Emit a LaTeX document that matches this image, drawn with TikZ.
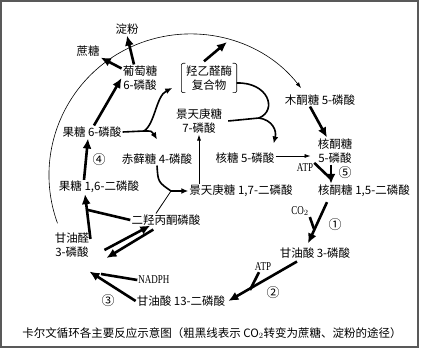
\documentclass[tikz,border=0pt]{standalone}
\usepackage{fontspec}
\newfontfamily\cjk{Noto Sans CJK SC}
\newfontfamily\narrowserif[FakeStretch=0.75]{Liberation Serif}
\usetikzlibrary{arrows.meta}

\begin{document}
\begin{tikzpicture}[x=1pt,y=-1pt,
    every node/.style={align=center,inner sep=1pt,font=\cjk\fontsize{11.5}{14}\selectfont},
    small/.style={font=\narrowserif\fontsize{12}{13}\selectfont},
    stepno/.style={font=\cjk\fontsize{13}{14}\selectfont},
    boldarr/.style={line width=2.6pt,-{Latex[length=10pt,width=9pt]}},
    boldline/.style={line width=2.6pt},
    curvearr/.style={line width=1.6pt,-{Latex[length=7pt,width=6pt]}},
    curveline/.style={line width=1.6pt},
    thinarr/.style={line width=0.7pt,-{Latex[length=6pt,width=4pt]}}]
    \useasboundingbox (0,0) rectangle (421,350);
    \draw[line width=1.2pt,gray!70!black] (1,1) rectangle (418,347);

    % sugars
    \node (starch) at (127,29) {淀粉};
    \node (sucrose) at (88,51) {蔗糖};
    \node (g6p) at (140,78) {葡萄糖\\6-磷酸};
    \node[minimum width=55pt,minimum height=29pt] (complex) at (209,78) {羟乙醛酶\\复合物};
    \draw[line width=0.6pt,rounded corners=2pt]
      ([xshift=4pt]complex.north west) -- (complex.north west) -- (complex.south west) -- ([xshift=4pt]complex.south west);
    \draw[line width=0.6pt,rounded corners=2pt]
      ([xshift=-4pt]complex.north east) -- (complex.north east) -- (complex.south east) -- ([xshift=-4pt]complex.south east);
    \node (s7p) at (199,121) {景天庚糖\\7-磷酸};
    \node (xu5p) at (320,100) {木酮糖 5-磷酸};
    \node (ru5p) at (335,151) {核酮糖\\5-磷酸};
    \node (f6p) at (92,132) {果糖 6-磷酸};
    \node (e4p) at (157,159) {赤藓糖 4-磷酸};
    \node (r5p) at (245,158) {核糖 5-磷酸};
    \node (sbp) at (241,191) {景天庚糖 1,7-二磷酸};
    \node (rubp) at (364,191) {核酮糖 1,5-二磷酸};
    \node (fbp) at (99,187) {果糖 1,6-二磷酸};
    \node (dhap) at (166,220) {二羟丙酮磷酸};
    \node (gap) at (72,245) {甘油醛\\3-磷酸};
    \node (pga) at (315,253) {甘油酸 3-磷酸};
    \node (bpga) at (181,301) {甘油酸 13-二磷酸};

    % cofactors and steps
    \node[small] (atpa) at (305,168) {ATP};
    \node[small] (co2) at (300,211) {CO$_2$};
    \node[small] (atpb) at (263,267) {ATP};
    \node[small] (nadph) at (154,280) {NADPH};
    \node[stepno] (n1) at (335,225) {①};
    \node[stepno] (n2) at (273,293) {②};
    \node[stepno] (n3) at (108,301) {③};
    \node[stepno] (n4) at (99,160) {④};
    \node[stepno] (n5) at (345,173) {⑤};

    \node (caption) at (212,333) {卡尔文循环各主要反应示意图（粗黑线表示 CO$_2$转变为蔗糖、淀粉的途径）};

    % junctions
    \coordinate (j1) at (88,210);
    \coordinate (j3) at (101,274);
    \coordinate (j4) at (250,290);
    \coordinate (j5) at (314,229);
    \coordinate (j6) at (330,178);
    \coordinate (j7) at (144,131);
    \coordinate (j8) at (259,118);
    \coordinate (j9) at (171,191);
    \coordinate (arctop) at (227,42);

    % outer cycle
    \draw[thinarr,line width=0.6pt] (190,175) ++(-200:141) arc[start angle=-200,end angle=-38,radius=141];

    % bold path
    \draw[boldarr] ([xshift=-6pt]g6p.north) -- (starch.south);
    \draw[boldarr] ([yshift=-4pt]g6p.north west) -- (sucrose.south east);
    \draw[boldarr] ([xshift=2pt]f6p.north) -- (g6p.west);
    \draw[boldarr] ([xshift=-15pt]fbp.north) -- ([xshift=-4pt]f6p.south);
    \draw[boldarr] ([yshift=6pt]gap.east) -- ([xshift=-14pt]fbp.south);
    \draw[boldline] (dhap.west) -- (j1);
    \draw[boldarr] ([shift={(14pt,-5pt)}]gap.east) -- ([shift={(20pt,1pt)}]dhap.south west);
    \draw[boldarr] ([shift={(23pt,-3pt)}]dhap.south west) -- ([shift={(16pt,-13pt)}]gap.east);
    \draw[boldarr] (bpga.west) -- ([shift={(-1pt,-13pt)}]gap.south east);
    \draw[boldline] (nadph.west) -- (j3);
    \draw[boldarr] ([shift={(-18pt,-2pt)}]pga.south) -- ([xshift=2pt]bpga.east);
    \draw[boldline] ([xshift=-4pt]atpb.south) -- (j4);
    \draw[boldarr] ([shift={(-37pt,-4pt)}]rubp.south) -- ([shift={(-7pt,3pt)}]pga.north);
    \draw[boldline] (co2.south east) -- (j5);
    \draw[boldarr] ([xshift=-4pt]ru5p.south) -- ([xshift=-33pt]rubp.north);
    \draw[boldline] (atpa.north east) -- (j6);
    \draw[boldarr] ([xshift=-10pt]xu5p.south) -- ([xshift=-8pt]ru5p.north);
    \draw[boldarr] ([shift={(-5pt,2pt)}]complex.north) -- (arctop);

    % regeneration
    \draw[curveline] (f6p.east) -- (j7);
    \draw[curvearr] (j7) .. controls (155,124) and (156,96) .. ([shift={(-9pt,-10pt)}]complex.west);
    \draw[curvearr] (j7) .. controls (152,131) .. ([yshift=13pt]e4p.north);
    \draw[curveline] ([yshift=-5pt]complex.east) .. controls (268,82) and (278,110) .. (j8);
    \draw[curveline] ([xshift=5pt]s7p.east) -- (j8);
    \draw[curvearr] (j8) .. controls (272,120) and (277,130) .. ([shift={(-2pt,8pt)}]r5p.north east);
    \draw[curveline] (e4p.south) .. controls (158,182) .. (j9);
    \draw[line width=0.8pt] ([xshift=-10pt]dhap.north) -- (j9);
    \draw[curvearr] (j9) -- (sbp.west);
    \draw[thinarr] (sbp.north -| s7p.south) -- (s7p.south);
    \draw[thinarr,shorten >=6pt] ([yshift=2pt]r5p.east) -- ([yshift=2pt]r5p.east -| ru5p.west);
  \end{tikzpicture}
\end{document}
